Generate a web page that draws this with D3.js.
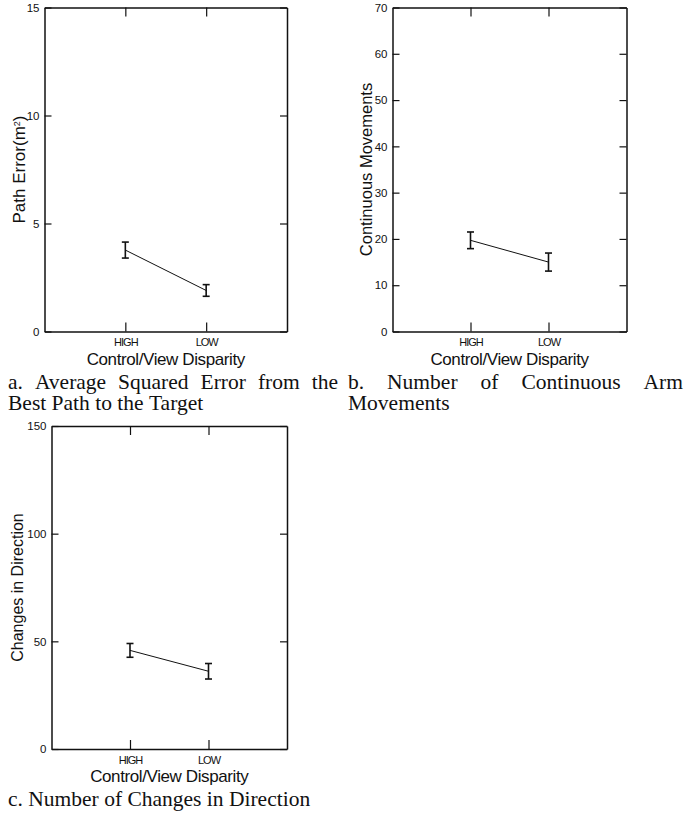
<!DOCTYPE html>
<html>
<head>
<meta charset="utf-8">
<script src="https://cdn.jsdelivr.net/npm/d3@7"></script>
<style>
  html, body { margin: 0; padding: 0; background: #fff; }
  svg { display: block; }
  .tick text { font-family: "Liberation Sans", Arial, sans-serif; fill: #111; }
</style>
</head>
<body>
<svg id="chart" width="686" height="813"></svg>
<script>
// x categories
const conditions = ["HIGH", "LOW"];

// a. path error (m^2): mean and half-width of error bar
const pathErrorMean = [3.77, 1.90];
const pathErrorErr = [0.37, 0.27];
const pathErrorTicks = [0, 5, 10, 15];

// b. continuous arm movements
const movesMean = [19.7, 15.0];
const movesErr = [1.8, 1.95];
const movesTicks = [0, 10, 20, 30, 40, 50, 60, 70];

// c. changes in direction
const changesMean = [45.8, 36.1];
const changesErr = [3.2, 3.6];
const changesTicks = [0, 50, 100, 150];

const xTitle = "Control/View Disparity";

const svg = d3.select("#chart");

function panel(opts) {
    const { left, right, top, bottom, yMax, ticks, means, errs, yTitle, yTitleX, yTitleSize } = opts;

    const x = d3.scaleLinear().domain([0, 3]).range([left, right]);
    const y = d3.scaleLinear().domain([0, yMax]).range([bottom, top]);
    const xPos = (d, i) => x(i + 1);

    const g = svg.append("g");

    // frame + inward ticks on all four sides
    const yl = g.append("g")
        .attr("transform", `translate(${left},0)`)
        .call(d3.axisLeft(y).tickValues(ticks).tickSize(-7).tickSizeOuter(0).tickPadding(5));
    yl.selectAll("text").style("font-size", "11.5px");

    g.append("g")
        .attr("transform", `translate(${right},0)`)
        .call(d3.axisRight(y).tickValues(ticks).tickSize(-7).tickSizeOuter(0).tickFormat(""));

    const xb = g.append("g")
        .attr("transform", `translate(0,${bottom})`)
        .call(d3.axisBottom(x).tickValues([1, 2]).tickSize(-9).tickSizeOuter(0)
            .tickPadding(7).tickFormat(d => conditions[d - 1]));
    xb.selectAll("text")
        .style("font-size", "11px")
        .style("letter-spacing", "-1px");

    g.append("g")
        .attr("transform", `translate(0,${top})`)
        .call(d3.axisTop(x).tickValues([1, 2]).tickSize(-9).tickSizeOuter(0).tickFormat(""));

    g.selectAll(".domain").attr("stroke", "#111").attr("stroke-width", 1.5);
    g.selectAll(".tick line").attr("stroke", "#111").attr("stroke-width", 1.2);

    // line between means
    g.append("path")
        .datum(means)
        .attr("fill", "none")
        .attr("stroke", "#111")
        .attr("stroke-width", 1)
        .attr("d", d3.line().x(xPos).y(d => y(d)));

    // error bars
    const eb = g.selectAll(".err")
        .data(means.map((m, i) => ({ m, e: errs[i], i })))
        .join("g")
        .attr("stroke", "#111")
        .attr("stroke-width", 1.6);
    eb.append("line")
        .attr("x1", d => x(d.i + 1)).attr("x2", d => x(d.i + 1))
        .attr("y1", d => y(d.m - d.e)).attr("y2", d => y(d.m + d.e));
    eb.append("line")
        .attr("x1", d => x(d.i + 1) - 3.5).attr("x2", d => x(d.i + 1) + 3.5)
        .attr("y1", d => y(d.m + d.e)).attr("y2", d => y(d.m + d.e));
    eb.append("line")
        .attr("x1", d => x(d.i + 1) - 3.5).attr("x2", d => x(d.i + 1) + 3.5)
        .attr("y1", d => y(d.m - d.e)).attr("y2", d => y(d.m - d.e));

    // axis titles
    g.append("text")
        .attr("x", (left + right) / 2)
        .attr("y", bottom + 33)
        .attr("text-anchor", "middle")
        .style("font-family", "Liberation Sans, Arial, sans-serif")
        .style("font-size", "17px")
        .style("letter-spacing", "-0.4px")
        .attr("fill", "#111")
        .text(xTitle);

    const yt = g.append("text")
        .attr("transform", `translate(${yTitleX},${(top + bottom) / 2}) rotate(-90)`)
        .attr("text-anchor", "middle")
        .style("font-family", "Liberation Sans, Arial, sans-serif")
        .style("font-size", yTitleSize + "px")
        .attr("fill", "#111");
    yTitle(yt);
}

panel({
    left: 44.5, right: 287, top: 7.5, bottom: 331.5, yMax: 15,
    ticks: pathErrorTicks, means: pathErrorMean, errs: pathErrorErr,
    yTitleX: 25, yTitleSize: 17,
    yTitle: t => {
        t.append("tspan").text("Path Error(m");
        t.append("tspan").attr("baseline-shift", "super").style("font-size", "9px").text("2");
        t.append("tspan").text(")");
    }
});

panel({
    left: 392.5, right: 626.5, top: 7.5, bottom: 331.5, yMax: 70,
    ticks: movesTicks, means: movesMean, errs: movesErr,
    yTitleX: 372, yTitleSize: 16.5,
    yTitle: t => t.text("Continuous Movements")
});

panel({
    left: 51.5, right: 287, top: 426, bottom: 749, yMax: 150,
    ticks: changesTicks, means: changesMean, errs: changesErr,
    yTitleX: 23, yTitleSize: 16,
    yTitle: t => t.text("Changes in Direction")
});

// captions (serif, first line justified)
function caption(lines, x0, x1, y0) {
    lines.forEach((line, li) => {
        const words = line.text.split(" ");
        const yy = y0 + li * 20.5;
        const ws = words.map(w => svg.append("text")
            .attr("y", yy)
            .style("font-family", "Liberation Serif, Times New Roman, serif")
            .style("font-size", "21.5px")
            .attr("fill", "#111")
            .text(w));
        const widths = ws.map(t => t.node().getComputedTextLength());
        const spaceW = 21.5 * 0.25;
        const gap = line.justify && words.length > 1
            ? (x1 - x0 - d3.sum(widths)) / (words.length - 1)
            : spaceW;
        let cx = x0;
        ws.forEach((t, i) => { t.attr("x", cx); cx += widths[i] + gap; });
    });
}

caption([{ text: "a. Average Squared Error from the", justify: true },
         { text: "Best Path to the Target", justify: false }], 8, 338, 389);
caption([{ text: "b. Number of Continuous Arm", justify: true },
         { text: "Movements", justify: false }], 348, 683, 389);
caption([{ text: "c. Number of Changes in Direction", justify: false }], 8, 338, 806);
</script>
</body>
</html>
